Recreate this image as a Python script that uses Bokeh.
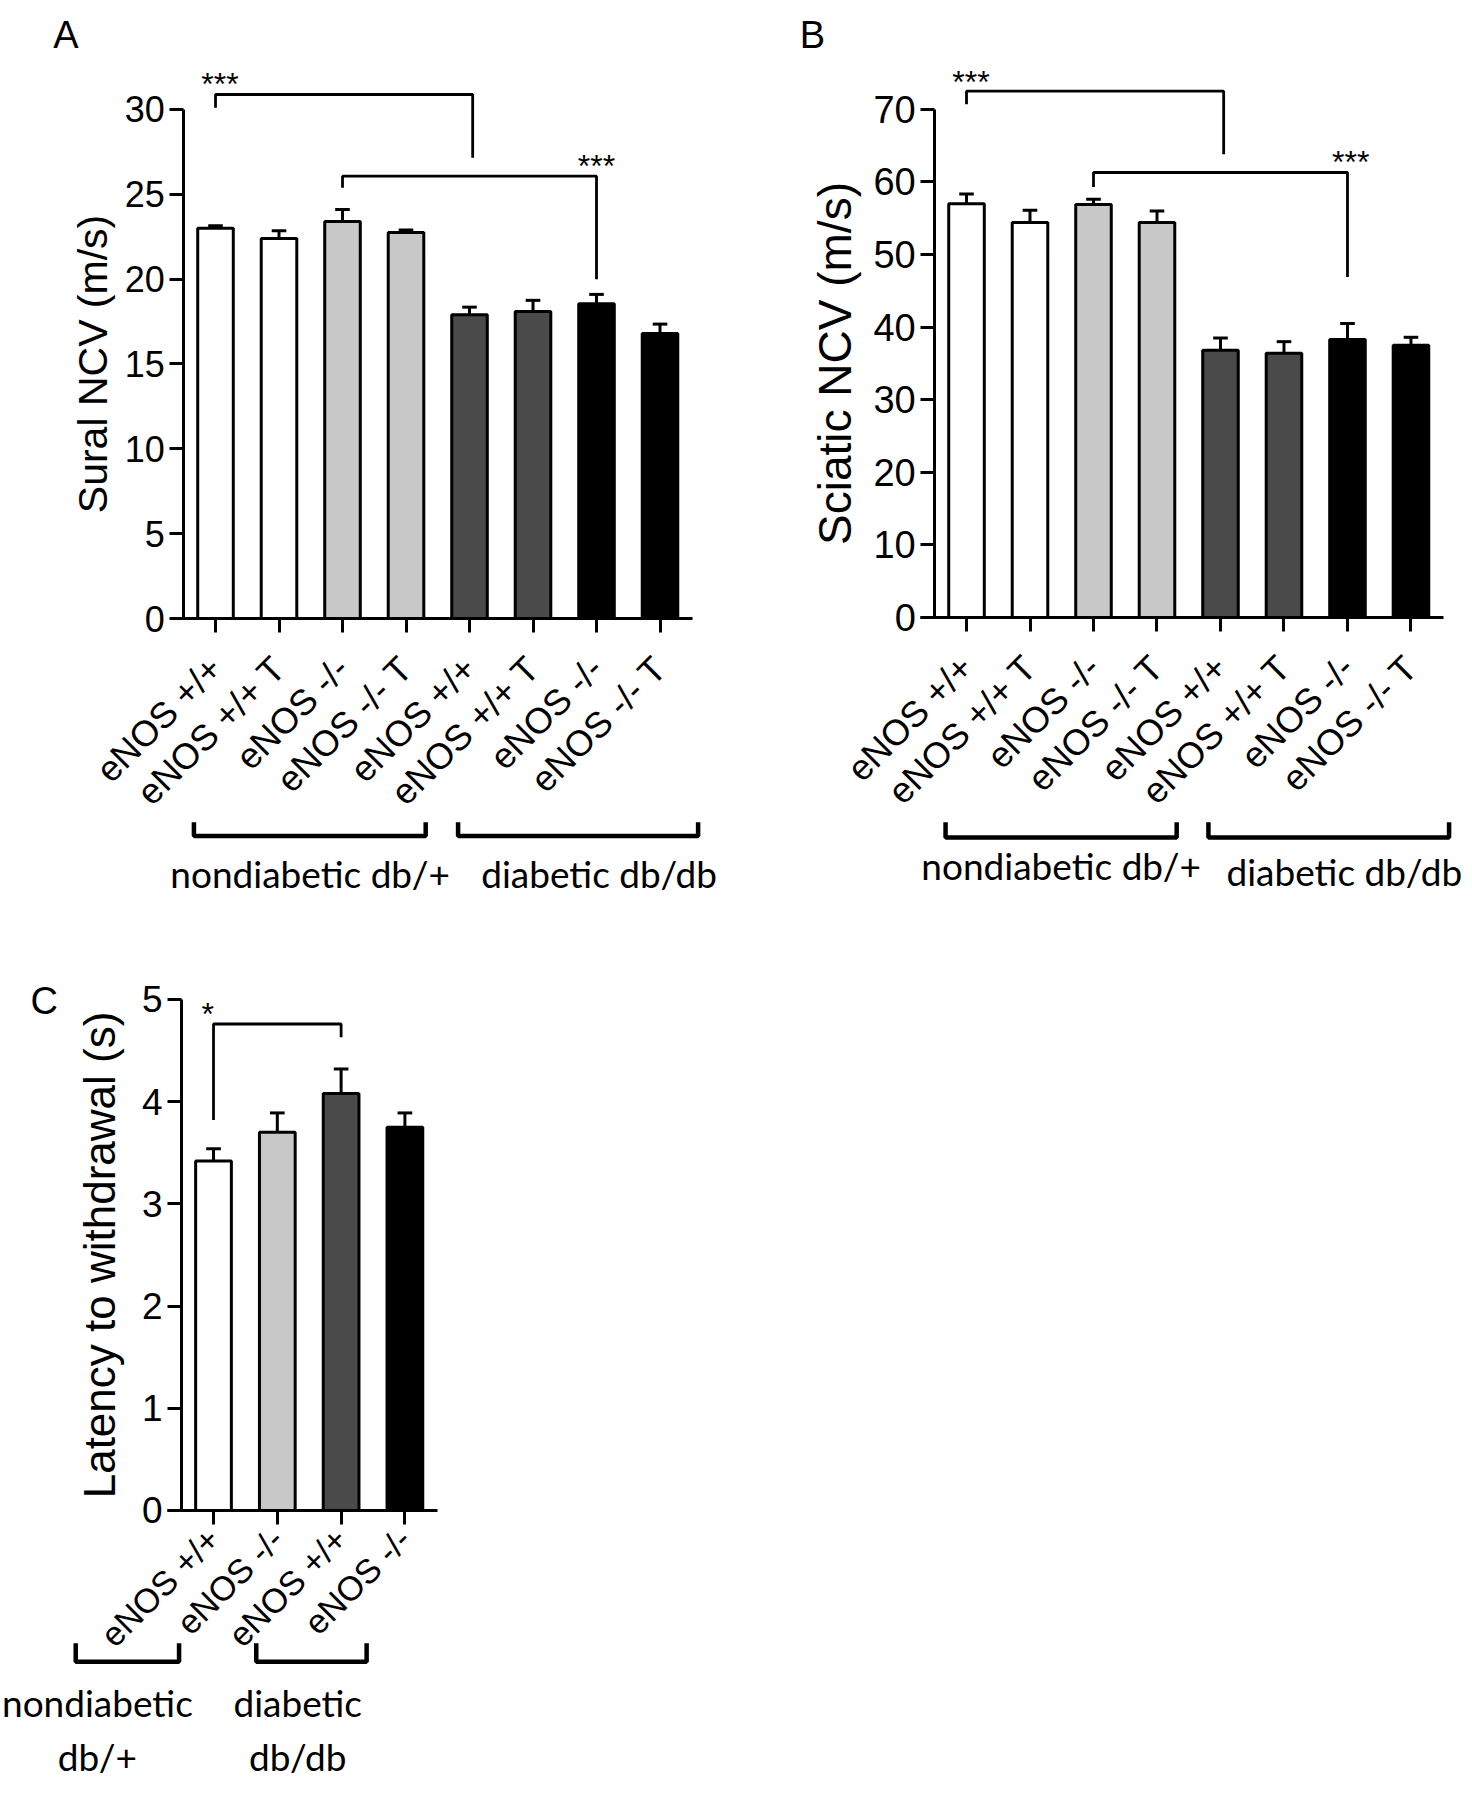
from math import pi
from bokeh.plotting import figure
from bokeh.models import Range1d, LinearAxis, FixedTicker
from bokeh.layouts import row, column
from bokeh.embed import file_html
from bokeh.resources import INLINE
from bokeh.core.properties import value

# ---------------- data ----------------
labels_ab = ["eNOS +/+", "eNOS +/+ T", "eNOS -/-", "eNOS -/- T",
             "eNOS +/+", "eNOS +/+ T", "eNOS -/-", "eNOS -/- T"]
labels_c = ["eNOS +/+", "eNOS -/-", "eNOS +/+", "eNOS -/-"]

sural_mean = [23.0, 22.4, 23.4, 22.75, 17.9, 18.1, 18.55, 16.8]
sural_sem = [0.15, 0.45, 0.7, 0.15, 0.45, 0.65, 0.55, 0.55]

sciatic_mean = [57.0, 54.4, 56.9, 54.4, 36.8, 36.4, 38.3, 37.5]
sciatic_sem = [1.35, 1.7, 0.7, 1.6, 1.7, 1.6, 2.2, 1.1]

latency_mean = [3.42, 3.70, 4.08, 3.75]
latency_sem = [0.12, 0.19, 0.24, 0.14]

colors_ab = ["white", "white", "#c8c8c8", "#c8c8c8", "#4a4a4a", "#4a4a4a", "black", "black"]
colors_c = ["white", "#c8c8c8", "#4a4a4a", "black"]

groups_ab = ["nondiabetic db/+", "diabetic db/db"]
groups_c = [["nondiabetic", "db/+"], ["diabetic", "db/db"]]

# significance brackets: (x_left, x_right, y_top, y_left_end, y_right_end)
sig_a = [(1, 5.05, 30.88, 30.1, 27.16), (3, 7, 26.07, 25.38, 20.0)]
sig_a_stars = [("***", 1.07, 31.48), ("***", 7.0, 26.68)]
sig_b = [(1, 5.05, 72.5, 70.7, 63.8), (3, 7, 61.3, 59.3, 46.9)]
sig_b_stars = [("***", 1.07, 73.7), ("***", 7.05, 62.7)]
sig_c = [(1, 3, 4.76, 3.82, 4.63)]
sig_c_stars = [("*", 0.91, 4.86)]

ARIAL = "Liberation Sans"
GROUPF = "Lato"


def make_panel(width, height, xr, yr, means, sems, colors, labels, yticks,
               ylabel, ylabel_size, ylabel_standoff, ytick_size, xtick_size, xtick_standoff,
               xbounds, sig, stars, letter, letter_xy, brackets, group_texts, group_font_size):
    p = figure(width=width, height=height, x_range=Range1d(*xr), y_range=Range1d(*yr),
               x_axis_type=None, y_axis_type=None, toolbar_location=None,
               output_backend="svg", min_border=0, outline_line_color=None,
               background_fill_color="white", border_fill_color="white")
    xs = list(range(1, len(means) + 1))
    tops = [m + s for m, s in zip(means, sems)]

    # error bars (upper only)
    p.segment(x0=xs, y0=means, x1=xs, y1=tops, line_color="black", line_width=3)
    p.segment(x0=[x - 0.115 for x in xs], y0=tops, x1=[x + 0.115 for x in xs], y1=tops,
              line_color="black", line_width=3)
    # bars
    p.vbar(x=xs, top=means, bottom=0, width=0.56, fill_color=colors,
           line_color="black", line_width=3)

    # axes
    yax = LinearAxis(fixed_location=0.5, bounds=(yticks[0], yticks[-1]),
                     ticker=FixedTicker(ticks=yticks))
    yax.axis_label = ylabel
    yax.axis_label_text_font = ARIAL
    yax.axis_label_text_font_size = ylabel_size
    yax.axis_label_text_font_style = "normal"
    yax.axis_label_text_color = "black"
    yax.axis_label_standoff = ylabel_standoff
    yax.major_label_text_font = ARIAL
    yax.major_label_text_font_size = ytick_size
    yax.major_label_text_color = "black"
    yax.major_label_standoff = 5
    yax.major_tick_in = 0
    yax.major_tick_out = 14
    yax.minor_tick_line_color = None
    yax.axis_line_width = 3
    yax.major_tick_line_width = 3
    p.add_layout(yax, "left")

    xax = LinearAxis(fixed_location=0, bounds=xbounds, ticker=FixedTicker(ticks=xs))
    xax.major_label_overrides = {x: lab for x, lab in zip(xs, labels)}
    xax.major_label_orientation = pi / 4
    xax.major_label_text_font = ARIAL
    xax.major_label_text_font_size = xtick_size
    xax.major_label_text_color = "black"
    xax.major_label_standoff = xtick_standoff
    xax.major_tick_in = 0
    xax.major_tick_out = 14
    xax.minor_tick_line_color = None
    xax.axis_line_width = 3
    xax.major_tick_line_width = 3
    p.add_layout(xax, "below")

    # significance brackets
    for (xl, xrr, yt, yle, yre) in sig:
        p.line(x=[xl, xl, xrr, xrr], y=[yle, yt, yt, yre], line_color="black", line_width=2.8)
    p.text(x=[s[1] for s in stars], y=[s[2] for s in stars], text=[s[0] for s in stars],
           text_font=value(ARIAL), text_font_size="32px", text_align="center",
           text_baseline="alphabetic", text_color="black")

    # panel letter
    p.text(x=[letter_xy[0]], y=[letter_xy[1]], text=[letter], text_font=value(ARIAL),
           text_font_size="38px", text_align="center", text_baseline="middle",
           text_color="black")

    # group brackets
    for (x0, x1, ytop, ybot) in brackets:
        p.line(x=[x0, x0, x1, x1], y=[ytop, ybot, ybot, ytop], line_color="black",
               line_width=4.5)
    for (txt, tx, ty) in group_texts:
        p.text(x=[tx], y=[ty], text=[txt], text_font=value(GROUPF),
               text_font_size=group_font_size, text_align="center", text_baseline="middle",
               text_color="black")
    return p


pA = make_panel(790, 930, (-2.386, 10.055), (-18.385, 36.42), sural_mean, sural_sem,
                colors_ab, labels_ab, [0, 5, 10, 15, 20, 25, 30],
                "Sural NCV (m/s)", "41px", 5, "36px", "36px", 30, (0.29, 8.51),
                sig_a, sig_a_stars, "A", (-1.354, 34.38),
                [(0.66, 4.31, -12.0, -12.82), (4.82, 8.6, -12.0, -12.82)],
                [(groups_ab[0], 2.49, -15.0), (groups_ab[1], 7.04, -15.0)], "37px")

pB = make_panel(674, 930, (-1.772, 8.843), (-43.11, 84.99), sciatic_mean, sciatic_sem,
                colors_ab, labels_ab, [0, 10, 20, 30, 40, 50, 60, 70],
                "Sciatic NCV (m/s)", "46px", 9, "38px", "36px", 30, (0.28, 8.51),
                sig_b, sig_b_stars, "B", (-1.425, 80.23),
                [(0.67, 4.31, -28.2, -30.3), (4.81, 8.6, -28.2, -30.3)],
                [(groups_ab[0], 2.49, -34.2), (groups_ab[1], 6.95, -35.0)], "37px")

pC = make_panel(600, 854, (-2.339, 7.066), (-2.681, 5.675), latency_mean, latency_sem,
                colors_c, labels_c, [0, 1, 2, 3, 4, 5],
                "Latency to withdrawal (s)", "44px", 15, "37px", "34px", 9, (0.28, 4.51),
                sig_c, sig_c_stars, "C", (-1.654, 4.985),
                [(-1.16, 0.46, -1.30, -1.48), (1.67, 3.40, -1.30, -1.48)],
                [(groups_c[0][0], -0.82, -1.88), (groups_c[0][1], -0.82, -2.41),
                 (groups_c[1][0], 2.32, -1.88), (groups_c[1][1], 2.32, -2.41)], "37px")

layout = column(row(pA, pB), pC)
open("out.html", "w").write(file_html(layout, INLINE))
